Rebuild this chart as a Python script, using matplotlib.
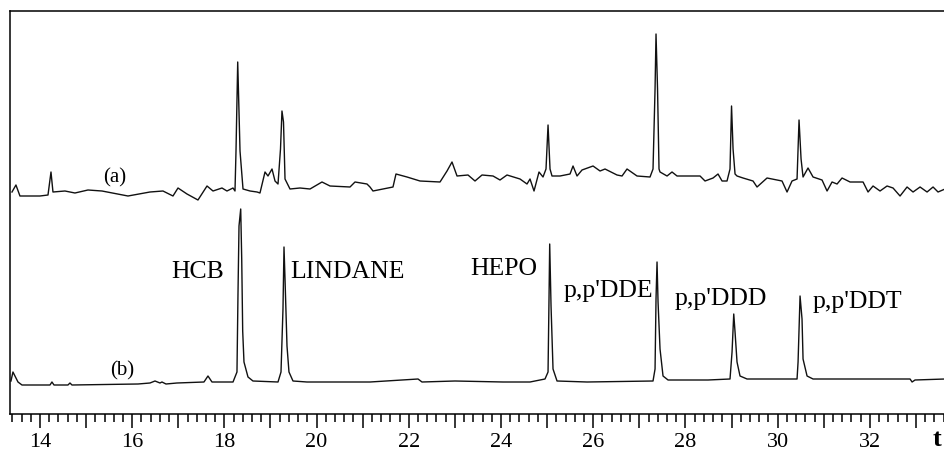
import matplotlib
matplotlib.use("Agg")
import matplotlib.pyplot as plt
from matplotlib.ticker import MultipleLocator, FuncFormatter

plt.rcParams['font.family'] = ['Liberation Serif', 'DejaVu Serif']

# trace (a): sample, retention time (min) and detector signal (arb. units)
t_a = [13.393, 13.479, 13.566, 14.000, 14.174, 14.239, 14.282, 14.542, 14.759, 15.041,
       15.345, 15.909, 16.386, 16.668, 16.885, 16.994, 17.189, 17.427, 17.623, 17.753,
       17.948, 18.056, 18.187, 18.230, 18.252, 18.289, 18.339, 18.404, 18.557, 18.709,
       18.772, 18.881, 18.946, 19.033, 19.098, 19.163, 19.217, 19.249, 19.282, 19.315,
       19.423, 19.640, 19.857, 20.117, 20.291, 20.725, 20.833, 21.093, 21.158, 21.223,
       21.657, 21.722, 21.961, 22.243, 22.677, 22.829, 22.937, 23.046, 23.284, 23.436,
       23.588, 23.827, 23.978, 24.130, 24.412, 24.564, 24.629, 24.716, 24.824, 24.911,
       24.976, 25.020, 25.063, 25.106, 25.280, 25.497, 25.562, 25.649, 25.757, 25.996,
       26.148, 26.256, 26.516, 26.625, 26.733, 26.950, 27.232, 27.297, 27.341, 27.362,
       27.395, 27.427, 27.449, 27.601, 27.709, 27.818, 28.165, 28.317, 28.425, 28.599,
       28.707, 28.794, 28.902, 28.967, 29.000, 29.033, 29.076, 29.119, 29.249, 29.466,
       29.553, 29.770, 30.095, 30.204, 30.312, 30.421, 30.464, 30.508, 30.551, 30.659,
       30.768, 30.963, 31.072, 31.180, 31.289, 31.397, 31.571, 31.853, 31.961, 32.069,
       32.221, 32.373, 32.503, 32.655, 32.807, 32.937, 33.089, 33.241, 33.371, 33.479,
       33.631]
s_a = [222, 229, 218, 218, 219, 242, 222, 223, 221, 224,
       223, 218, 222, 223, 218, 226, 220, 214, 228, 223,
       226, 223, 226, 223, 263, 352, 263, 225, 223, 222,
       221, 242, 238, 245, 233, 230, 265, 303, 292, 235,
       225, 226, 225, 232, 228, 227, 232, 230, 227, 223,
       227, 240, 237, 233, 232, 243, 252, 238, 239, 233,
       239, 238, 234, 239, 235, 230, 235, 223, 242, 237,
       245, 289, 245, 238, 238, 240, 248, 238, 244, 248,
       243, 245, 239, 238, 245, 238, 237, 245, 325, 380,
       325, 245, 242, 238, 242, 238, 238, 238, 233, 236,
       240, 233, 233, 245, 308, 265, 240, 238, 236, 233,
       227, 236, 233, 222, 233, 235, 294, 255, 237, 246,
       237, 234, 223, 232, 230, 236, 232, 232, 222, 228,
       223, 228, 226, 218, 227, 222, 227, 222, 227, 222,
       225]

# trace (b): standard mixture
t_b = [13.371, 13.414, 13.523, 13.610, 14.217, 14.260, 14.304, 14.607, 14.651, 14.694,
       16.126, 16.386, 16.495, 16.603, 16.646, 16.733, 16.972, 17.557, 17.644, 17.731,
       18.187, 18.273, 18.295, 18.317, 18.354, 18.376, 18.397, 18.425, 18.512, 18.620,
       19.163, 19.228, 19.271, 19.293, 19.315, 19.358, 19.401, 19.488, 19.792, 21.158,
       22.200, 22.286, 23.002, 24.043, 24.629, 24.954, 25.020, 25.041, 25.056, 25.085,
       25.128, 25.215, 25.866, 27.297, 27.341, 27.362, 27.384, 27.406, 27.449, 27.514,
       27.623, 28.490, 28.967, 29.011, 29.048, 29.076, 29.119, 29.184, 29.336, 30.421,
       30.443, 30.486, 30.529, 30.551, 30.638, 30.768, 32.872, 32.916, 32.980, 33.631]
s_b = [33, 42, 32, 29, 29, 32, 29, 29, 31, 29,
       30, 31, 33, 31, 32, 30, 31, 32, 38, 32,
       32, 42, 120, 188, 205, 155, 83, 52, 37, 33,
       32, 42, 105, 167, 135, 68, 42, 33, 32, 32,
       35, 32, 33, 32, 32, 35, 42, 115, 170, 108,
       45, 33, 32, 33, 45, 115, 152, 112, 65, 38,
       34, 34, 35, 62, 100, 82, 52, 38, 35, 35,
       52, 118, 95, 55, 38, 35, 35, 32, 34, 35]

# peak names and where they are written (t, signal at text baseline)
peak_names = ['HCB', 'LINDANE', 'HEPO', "p,p'DDE", "p,p'DDD", "p,p'DDT"]
name_t = [17.41, 20.68, 24.07, 26.32, 28.77, 31.74]
name_s = [137, 137, 140, 118, 110, 107]

fig = plt.figure(figsize=(9.45, 4.52), dpi=100)
ax = fig.add_axes([10 / 945, 37 / 452, 935 / 945, 403 / 452])

ax.plot(t_a, s_a, color='#111111', lw=1.0)
ax.plot(t_b, s_b, color='#111111', lw=1.0)

ax.text(15.63, 237, '(a)', fontsize=15, ha='center', va='center')
ax.text(15.78, 44, '(b)', fontsize=15, ha='center', va='center')
for name, x, y in zip(peak_names, name_t, name_s):
    ax.text(x, y, name, fontsize=18.5, ha='center', va='baseline')

ax.set_xlim(13.35, 33.63)
ax.set_ylim(0, 403)

ax.spines['right'].set_visible(False)
for side in ['top', 'left', 'bottom']:
    ax.spines[side].set_linewidth(1.1)

ax.xaxis.set_major_locator(MultipleLocator(1))
ax.xaxis.set_minor_locator(MultipleLocator(0.2))
ax.xaxis.set_major_formatter(FuncFormatter(lambda v, p: '%d' % v if round(v) % 2 == 0 else ''))
ax.tick_params(axis='x', which='major', length=10, width=1.1, labelsize=16, pad=3)
ax.tick_params(axis='x', which='minor', length=6, width=1.1)
ax.set_yticks([])

fig.text(937 / 945, 1 - 440 / 452, 't', fontsize=19, fontweight='bold', ha='center', va='center')

fig.savefig('out.png', dpi=100)
